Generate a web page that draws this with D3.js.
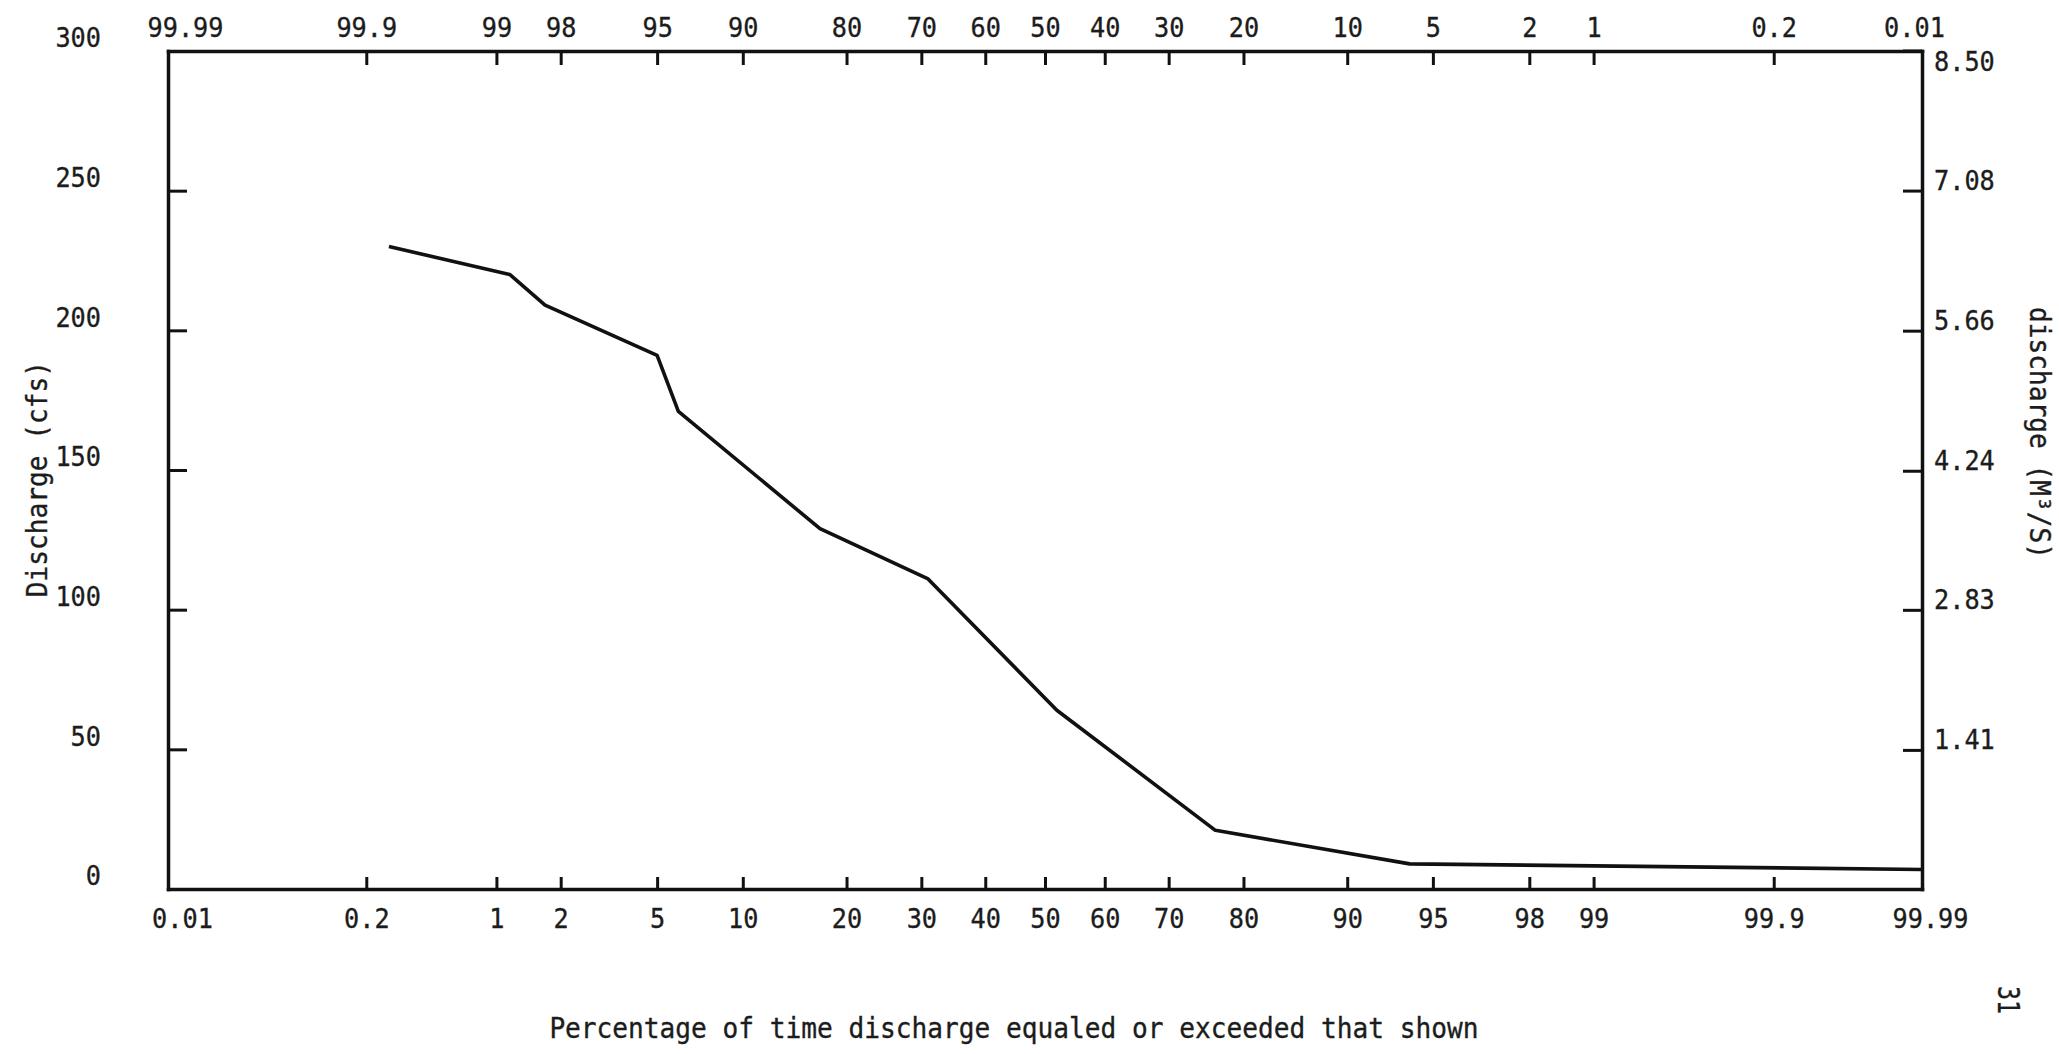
<!DOCTYPE html>
<html>
<head>
<meta charset="utf-8">
<script src="https://cdn.jsdelivr.net/npm/d3@7"></script>
<style>
  html, body { margin: 0; padding: 0; background: #fff; }
  svg { display: block; }
  text { font-family: "DejaVu Sans Mono", monospace; fill: #1c1c1c; stroke: #1c1c1c; stroke-width: 0.35px; }
</style>
</head>
<body>
<svg id="chart" width="2059" height="1054"></svg>
<script>
// Percent of time discharge equaled or exceeded (bottom axis tick values)
const bottomPct = [0.01, 0.2, 1, 2, 5, 10, 20, 30, 40, 50, 60, 70, 80, 90, 95, 98, 99, 99.9, 99.99];
// Labels printed along the top edge, at the same tick positions
const topPctLabels = ["99.99", "99.9", "99", "98", "95", "90", "80", "70", "60", "50",
                      "40", "30", "20", "10", "5", "2", "1", "0.2", "0.01"];
// Discharge axes
const cfsTicks = [0, 50, 100, 150, 200, 250, 300];
const cmsTicks = [1.41, 2.83, 4.24, 5.66, 7.08, 8.50];
// Flow-duration curve
const exceedPct    = [0.27, 1.16, 1.7, 5.0, 6.0, 17, 31, 52, 76.5, 93.9, 99.99];
const dischargeCfs = [230, 220, 209, 191, 171, 129, 111, 64, 21, 9, 7];

const CFS_TO_CMS = 0.0283168;

// Inverse standard normal CDF (Acklam's rational approximation)
function probit(p) {
  const a = [-3.969683028665376e+01, 2.209460984245205e+02, -2.759285104469687e+02,
              1.383577518672690e+02, -3.066479806614716e+01, 2.506628277459239e+00];
  const b = [-5.447609879822406e+01, 1.615858368580409e+02, -1.556989798598866e+02,
              6.680131188771972e+01, -1.328068155288572e+01];
  const c = [-7.784894002430293e-03, -3.223964580411365e-01, -2.400758277161838e+00,
             -2.549732539343734e+00, 4.374664141464968e+00, 2.938163982698783e+00];
  const d = [7.784695709041462e-03, 3.224671290700398e-01, 2.445134137142996e+00,
             3.754408661907416e+00];
  const pl = 0.02425, ph = 1 - pl;
  let q, r;
  if (p < pl) {
    q = Math.sqrt(-2 * Math.log(p));
    return (((((c[0]*q + c[1])*q + c[2])*q + c[3])*q + c[4])*q + c[5]) /
           ((((d[0]*q + d[1])*q + d[2])*q + d[3])*q + 1);
  }
  if (p <= ph) {
    q = p - 0.5; r = q * q;
    return (((((a[0]*r + a[1])*r + a[2])*r + a[3])*r + a[4])*r + a[5]) * q /
           (((((b[0]*r + b[1])*r + b[2])*r + b[3])*r + b[4])*r + 1);
  }
  q = Math.sqrt(-2 * Math.log(1 - p));
  return -(((((c[0]*q + c[1])*q + c[2])*q + c[3])*q + c[4])*q + c[5]) /
          ((((d[0]*q + d[1])*q + d[2])*q + d[3])*q + 1);
}

const L = 168, R = 1922, T = 51, B = 889;
const CHAR_W = 15.2;      // typewriter pitch of the tick labels
const TITLE_W = 15.75;    // pitch of the axis titles

// Normal-probability scale: percent -> pixel
const zScale = d3.scaleLinear()
  .domain([probit(0.0001), probit(0.9999)])
  .range([L, R]);
function probScale(pct) { return zScale(probit(pct / 100)); }
probScale.domain = () => [0.01, 99.99];
probScale.range = () => zScale.range();
probScale.copy = () => probScale;

const y = d3.scaleLinear().domain([0, 300]).range([B, T]);
const yCms = d3.scaleLinear().domain([0, 300 * CFS_TO_CMS]).range([B, T]);

const svg = d3.select("#chart");

function styleAxis(g) {
  g.attr("font-family", null).attr("font-size", null);
  g.select(".domain").attr("stroke", "#111").attr("stroke-width", 3.5)
    .attr("stroke-linecap", "square");
  g.selectAll(".tick line").attr("stroke", "#111").attr("stroke-width", 3);
  g.selectAll(".tick text")
    .attr("font-size", 27)
    .attr("fill", "#1c1c1c")
    .attr("lengthAdjust", "spacingAndGlyphs")
    .attr("textLength", function () { return this.textContent.length * CHAR_W; });
}

// Bottom axis
const gBottom = svg.append("g")
  .attr("transform", `translate(0,${B})`)
  .call(d3.axisBottom(probScale)
    .tickValues(bottomPct)
    .tickFormat(d => String(d))
    .tickSizeInner(-12).tickSizeOuter(0).tickPadding(20));
styleAxis(gBottom);
gBottom.selectAll(".tick text").attr("dx", (d, i) => i === 0 ? 14 : (i === bottomPct.length - 1 ? 8 : 0));

// Top axis
const gTop = svg.append("g")
  .attr("transform", `translate(0,${T})`)
  .call(d3.axisTop(probScale)
    .tickValues(bottomPct)
    .tickFormat((d, i) => topPctLabels[i])
    .tickSizeInner(-14).tickSizeOuter(0).tickPadding(14));
styleAxis(gTop);
gTop.selectAll(".tick text").attr("dx", (d, i) => i === 0 ? 17 : (i === bottomPct.length - 1 ? -8 : 0));

// Left axis (cfs)
const gLeft = svg.append("g")
  .attr("transform", `translate(${L},0)`)
  .call(d3.axisLeft(y)
    .tickValues(cfsTicks)
    .tickSizeInner(-19).tickSizeOuter(0).tickPadding(67));
styleAxis(gLeft);
gLeft.selectAll(".tick text").attr("dy", "-0.15em");

// Right axis (m3/s)
const gRight = svg.append("g")
  .attr("transform", `translate(${R},0)`)
  .call(d3.axisRight(yCms)
    .tickValues(cmsTicks)
    .tickFormat(d3.format(".2f"))
    .tickSizeInner(-19).tickSizeOuter(0).tickPadding(12));
styleAxis(gRight);
gRight.selectAll(".tick text").attr("dy", d => d === 8.50 ? "0.75em" : "-0.05em");

// Flow-duration curve
const pts = exceedPct.map((p, i) => ({ p, q: dischargeCfs[i] }));
svg.append("path")
  .datum(pts)
  .attr("fill", "none")
  .attr("stroke", "#111")
  .attr("stroke-width", 3.6)
  .attr("stroke-linejoin", "round")
  .attr("d", d3.line().x(d => probScale(d.p)).y(d => y(d.q)));

// Axis titles
function title(sel, str) {
  return sel.attr("font-size", 27.5)
    .attr("lengthAdjust", "spacingAndGlyphs")
    .attr("textLength", str.length * TITLE_W)
    .text(str);
}

title(svg.append("text")
  .attr("x", 1014).attr("y", 1038)
  .attr("text-anchor", "middle"),
  "Percentage of time discharge equaled or exceeded that shown");

title(svg.append("text")
  .attr("transform", "translate(37,479) rotate(-90)")
  .attr("text-anchor", "middle").attr("dy", "0.36em"),
  "Discharge (cfs)");

title(svg.append("text")
  .attr("transform", "translate(2040,433) rotate(90)")
  .attr("text-anchor", "middle").attr("dy", "0.36em"),
  "discharge (M³/S)");

// Page number
svg.append("text")
  .attr("transform", "translate(2009,1000) rotate(90)")
  .attr("text-anchor", "middle").attr("dy", "0.36em")
  .attr("font-size", 30)
  .attr("lengthAdjust", "spacingAndGlyphs")
  .attr("textLength", 28)
  .text("31");
</script>
</body>
</html>
